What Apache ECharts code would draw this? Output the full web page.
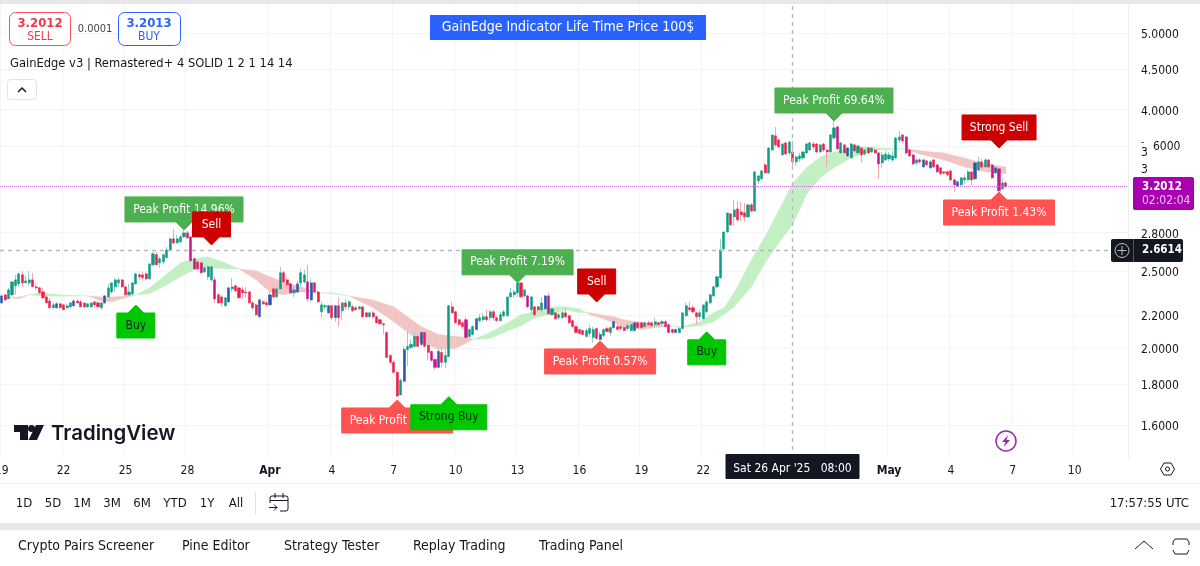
<!DOCTYPE html>
<html>
<head>
<meta charset="utf-8">
<style>html,body{margin:0;padding:0;background:#fff}#c{width:1200px;height:566px}</style>
<script src="https://cdn.jsdelivr.net/npm/echarts@6/dist/echarts.min.js"></script>
</head>
<body>
<div id="c"></div>
<script>
const opens=[2.281,2.335,2.308,2.335,2.397,2.411,2.475,2.418,2.418,2.439,
2.390,2.383,2.355,2.321,2.294,2.249,2.249,2.275,2.268,2.249,
2.255,2.262,2.294,2.288,2.281,2.255,2.255,2.288,2.281,2.249,
2.281,2.321,2.355,2.390,2.418,2.439,2.390,2.335,2.342,2.411,
2.475,2.475,2.482,2.446,2.548,2.624,2.563,2.570,2.601,2.661,
2.748,2.716,2.724,2.764,2.796,2.764,2.593,2.570,2.563,2.497,
2.461,2.439,2.439,2.335,2.321,2.262,2.288,2.376,2.397,2.383,
2.369,2.355,2.355,2.281,2.268,2.191,2.288,2.281,2.268,2.376,
2.321,2.376,2.490,2.439,2.411,2.349,2.355,2.418,2.425,2.425,
2.301,2.418,2.355,2.223,2.255,2.216,2.262,2.185,2.262,2.229,
2.281,2.255,2.255,2.249,2.242,2.255,2.216,2.191,2.216,2.191,
2.172,2.147,2.093,1.958,1.919,1.864,1.745,1.816,1.992,2.004,
2.010,2.069,2.022,2.093,2.016,1.981,1.935,1.891,1.975,1.919,
1.952,2.255,2.223,2.172,2.153,2.172,2.069,2.081,2.111,2.166,
2.172,2.191,2.185,2.223,2.185,2.166,2.197,2.197,2.321,2.335,
2.349,2.418,2.328,2.328,2.236,2.255,2.255,2.236,2.242,2.328,
2.204,2.216,2.185,2.185,2.216,2.197,2.166,2.129,2.111,2.105,
2.069,2.087,2.063,2.117,2.051,2.075,2.117,2.093,2.123,2.129,
2.129,2.123,2.117,2.105,2.105,2.153,2.153,2.129,2.153,2.153,
2.141,2.153,2.147,2.160,2.141,2.111,2.093,2.093,2.117,2.197,
2.249,2.249,2.216,2.191,2.178,2.223,2.281,2.328,2.390,2.454,
2.669,2.804,2.955,2.929,2.998,2.972,2.963,2.929,3.033,2.980,
3.252,3.272,3.407,3.329,3.558,3.707,3.663,3.507,3.632,3.528,
3.538,3.437,3.467,3.477,3.528,3.558,3.621,3.621,3.538,3.621,
3.558,3.538,3.685,3.805,3.528,3.611,3.497,3.477,3.611,3.528,
3.579,3.517,3.579,3.538,3.558,3.528,3.427,3.457,3.467,3.457,
3.477,3.663,3.717,3.696,3.558,3.507,3.427,3.457,3.387,3.447,
3.378,3.457,3.407,3.378,3.339,3.339,3.348,3.262,3.205,3.215,
3.262,3.262,3.339,3.272,3.358,3.437,3.387,3.457,3.407,3.329,
3.368,3.178,3.233];
const closes=[2.328,2.301,2.369,2.425,2.439,2.482,2.418,2.432,2.439,2.390,
2.383,2.349,2.315,2.281,2.249,2.268,2.275,2.249,2.236,2.262,
2.281,2.294,2.281,2.255,2.255,2.275,2.281,2.268,2.255,2.281,
2.328,2.383,2.418,2.439,2.439,2.390,2.335,2.355,2.418,2.482,
2.461,2.454,2.446,2.555,2.631,2.548,2.593,2.624,2.661,2.748,
2.716,2.748,2.764,2.796,2.756,2.578,2.518,2.518,2.490,2.526,
2.533,2.533,2.308,2.281,2.281,2.315,2.383,2.390,2.362,2.315,
2.349,2.349,2.281,2.249,2.204,2.301,2.275,2.268,2.335,2.321,
2.376,2.490,2.425,2.404,2.349,2.369,2.411,2.490,2.475,2.308,
2.418,2.355,2.288,2.268,2.262,2.262,2.185,2.262,2.185,2.281,
2.255,2.288,2.229,2.236,2.255,2.191,2.191,2.216,2.191,2.153,
2.147,2.141,1.947,1.919,1.864,1.740,1.821,1.992,2.010,2.022,
2.069,2.010,2.093,2.010,1.975,1.930,1.891,1.981,1.919,1.958,
2.262,2.216,2.153,2.141,2.129,2.063,2.111,2.129,2.178,2.185,
2.191,2.172,2.223,2.185,2.166,2.204,2.223,2.321,2.349,2.355,
2.418,2.321,2.369,2.255,2.321,2.204,2.236,2.281,2.328,2.210,
2.242,2.178,2.204,2.216,2.191,2.153,2.129,2.093,2.087,2.081,
2.105,2.117,2.111,2.057,2.081,2.111,2.099,2.123,2.160,2.111,
2.117,2.105,2.135,2.141,2.153,2.123,2.123,2.153,2.141,2.135,
2.160,2.141,2.160,2.129,2.093,2.093,2.111,2.117,2.216,2.262,
2.236,2.223,2.191,2.216,2.268,2.288,2.335,2.390,2.461,2.661,
2.804,2.963,2.862,2.989,2.904,2.946,2.929,3.033,2.980,3.339,
3.300,3.348,3.329,3.579,3.717,3.611,3.590,3.621,3.517,3.642,
3.437,3.487,3.497,3.538,3.621,3.632,3.590,3.538,3.611,3.558,
3.538,3.717,3.794,3.569,3.632,3.528,3.579,3.621,3.548,3.600,
3.507,3.558,3.528,3.579,3.528,3.417,3.507,3.517,3.507,3.497,
3.685,3.696,3.653,3.528,3.497,3.417,3.457,3.437,3.457,3.407,
3.437,3.387,3.339,3.320,3.329,3.310,3.262,3.215,3.243,3.281,
3.281,3.339,3.262,3.427,3.437,3.387,3.457,3.387,3.281,3.378,
3.159,3.233,3.2012];
const highs=[2.335,2.342,2.383,2.432,2.475,2.490,2.504,2.475,2.504,2.490,
2.418,2.390,2.383,2.335,2.315,2.281,2.288,2.281,2.275,2.275,
2.288,2.308,2.308,2.301,2.281,2.281,2.281,2.294,2.294,2.288,
2.335,2.411,2.418,2.454,2.454,2.446,2.397,2.411,2.418,2.490,
2.490,2.497,2.497,2.555,2.646,2.646,2.608,2.631,2.685,2.756,
2.828,2.780,2.780,2.837,2.812,2.764,2.608,2.578,2.570,2.533,
2.540,2.540,2.461,2.349,2.335,2.321,2.390,2.454,2.404,2.390,
2.390,2.390,2.362,2.294,2.275,2.308,2.301,2.294,2.355,2.390,
2.390,2.533,2.504,2.454,2.418,2.390,2.432,2.518,2.511,2.548,
2.446,2.425,2.362,2.288,2.275,2.268,2.268,2.268,2.321,2.288,
2.308,2.301,2.268,2.262,2.262,2.262,2.223,2.223,2.229,2.197,
2.178,2.153,2.093,1.964,1.930,1.869,1.832,2.010,2.099,2.051,
2.105,2.081,2.099,2.099,2.022,1.986,1.941,1.992,2.004,1.992,
2.268,2.288,2.229,2.178,2.160,2.191,2.117,2.135,2.185,2.210,
2.216,2.236,2.236,2.236,2.191,2.223,2.236,2.321,2.383,2.369,
2.418,2.418,2.376,2.335,2.328,2.262,2.262,2.321,2.335,2.349,
2.242,2.223,2.216,2.229,2.249,2.204,2.172,2.135,2.117,2.111,
2.117,2.141,2.129,2.123,2.099,2.117,2.129,2.129,2.172,2.147,
2.135,2.129,2.141,2.147,2.160,2.160,2.160,2.160,2.166,2.160,
2.185,2.160,2.172,2.172,2.147,2.117,2.117,2.129,2.216,2.281,
2.288,2.268,2.223,2.236,2.268,2.301,2.342,2.397,2.468,2.748,
2.804,2.963,2.963,3.077,3.068,3.059,3.050,3.042,3.050,3.339,
3.310,3.358,3.427,3.590,3.717,3.805,3.685,3.632,3.642,3.653,
3.653,3.497,3.528,3.548,3.632,3.642,3.642,3.632,3.621,3.632,
3.569,3.728,3.882,3.816,3.642,3.621,3.590,3.632,3.621,3.611,
3.590,3.569,3.590,3.590,3.569,3.538,3.538,3.548,3.538,3.548,
3.696,3.761,3.728,3.707,3.569,3.517,3.467,3.477,3.467,3.457,
3.457,3.467,3.417,3.387,3.348,3.358,3.358,3.272,3.252,3.291,
3.310,3.358,3.339,3.437,3.487,3.467,3.477,3.467,3.417,3.397,
3.378,3.281,3.252];
const lows=[2.275,2.294,2.308,2.328,2.335,2.390,2.390,2.418,2.397,2.390,
2.369,2.335,2.308,2.281,2.242,2.242,2.242,2.242,2.236,2.242,
2.249,2.255,2.275,2.255,2.249,2.249,2.249,2.249,2.255,2.236,
2.275,2.321,2.342,2.355,2.390,2.383,2.328,2.328,2.328,2.404,
2.439,2.432,2.439,2.439,2.540,2.548,2.526,2.555,2.601,2.654,
2.708,2.708,2.716,2.756,2.748,2.570,2.511,2.504,2.482,2.490,
2.439,2.425,2.281,2.275,2.255,2.255,2.281,2.355,2.355,2.308,
2.308,2.315,2.275,2.236,2.197,2.185,2.268,2.255,2.262,2.308,
2.315,2.376,2.418,2.383,2.342,2.321,2.349,2.390,2.411,2.288,
2.288,2.349,2.281,2.185,2.236,2.210,2.172,2.160,2.129,2.172,
2.236,2.236,2.223,2.229,2.236,2.185,2.185,2.185,2.178,2.147,
2.141,2.081,1.941,1.908,1.859,1.735,1.745,1.811,1.897,1.992,
2.004,2.010,2.010,2.004,1.930,1.924,1.875,1.886,1.891,1.886,
1.947,2.210,2.147,2.135,2.111,2.051,2.063,2.075,2.105,2.153,
2.160,2.160,2.166,2.166,2.160,2.160,2.185,2.191,2.315,2.315,
2.321,2.315,2.315,2.249,2.204,2.197,2.223,2.216,2.236,2.204,
2.197,2.172,2.172,2.178,2.185,2.147,2.123,2.087,2.081,2.075,
2.063,2.063,2.033,2.051,2.045,2.063,2.093,2.069,2.117,2.105,
2.105,2.099,2.105,2.099,2.099,2.117,2.117,2.123,2.135,2.129,
2.123,2.135,2.135,2.123,2.087,2.087,2.087,2.087,2.111,2.191,
2.223,2.216,2.141,2.172,2.172,2.216,2.275,2.321,2.383,2.446,
2.661,2.796,2.853,2.853,2.887,2.895,2.887,2.921,2.963,2.972,
3.224,3.262,3.320,3.320,3.548,3.590,3.579,3.507,3.507,3.507,
3.368,3.397,3.437,3.457,3.517,3.548,3.558,3.528,3.528,3.538,
3.387,3.528,3.663,3.558,3.517,3.517,3.487,3.477,3.538,3.507,
3.427,3.497,3.517,3.528,3.517,3.272,3.378,3.447,3.447,3.437,
3.467,3.632,3.632,3.507,3.487,3.407,3.407,3.417,3.378,3.397,
3.368,3.378,3.329,3.310,3.310,3.300,3.252,3.150,3.196,3.205,
3.224,3.252,3.215,3.262,3.339,3.378,3.378,3.378,3.272,3.320,
3.150,3.168,3.187];
const blueBars=[0,16,21,30,66,75,78,86,90,95,97,117,122,127,138,158,174,178,184,196,246,268,270,278,283,289];
const magentaBars=[55,56,58,62,84,89,125,126,135,153,159,194,243,255,263,265,272,277,288,290];

const cloudIdx=[2,5,8,11,17,25,29,32,36,39,43,47,52,56,60,65,69,74,78,82,87,92,96,101,108,114,122,127,132,136,137,142,146,151,155,159,164,168,170,171,174,178,181,186,190,195,198,203,207,210,213,218,222,226,230,234,238,242,247,251,255,262,263,268,274,280,286,292];
const cloudFast=[2.315,2.308,2.335,2.349,2.335,2.328,2.294,2.288,2.315,2.335,2.383,2.461,2.563,2.593,2.608,2.563,2.518,2.439,2.355,2.335,2.355,2.349,2.349,2.328,2.249,2.160,2.033,1.992,1.998,2.039,2.051,2.093,2.141,2.204,2.223,2.255,2.255,2.242,2.216,2.204,2.185,2.153,2.123,2.111,2.123,2.129,2.129,2.160,2.216,2.249,2.349,2.585,2.764,2.989,3.233,3.378,3.487,3.538,3.579,3.590,3.579,3.569,3.558,3.507,3.457,3.387,3.339,3.320];
const cloudSlow=[2.315,2.321,2.335,2.328,2.325,2.328,2.321,2.321,2.328,2.335,2.342,2.390,2.461,2.511,2.526,2.518,2.518,2.504,2.461,2.425,2.390,2.349,2.342,2.328,2.301,2.255,2.129,2.081,2.069,2.063,2.051,2.057,2.093,2.135,2.185,2.204,2.236,2.216,2.216,2.216,2.204,2.191,2.172,2.153,2.141,2.129,2.123,2.135,2.160,2.204,2.255,2.390,2.563,2.716,2.862,3.123,3.281,3.378,3.477,3.528,3.558,3.569,3.569,3.548,3.528,3.477,3.417,3.387];

const signalText=['Peak Profit 14.96%','Sell','Buy','Peak Profit 7.19%','Peak Profit 1.36%','Strong Buy','Sell','Peak Profit 0.57%','Buy','Peak Profit 69.64%','Strong Sell','Peak Profit 1.43%'];
const signalIdx=[53,61,39,150,115,130,173,174,205,242,290,290];
const signalPrice=[2.820,2.700,2.267,2.418,1.720,1.736,2.287,2.042,2.097,3.871,3.579,3.149];
const signalKind=['gainUp','sellUp','buyDown','gainUp','lossDown','buyDown','sellUp','lossDown','buyDown','gainUp','sellUp','lossDown'];

const yTicks=[1.6,1.8,2.0,2.2,2.5,2.8,3.6,4.0,4.5,5.0];
const xTickIdx=[0,18,36,54,78,96,114,132,150,168,186,204,222,240,258,276,294,312];
const xTickText=['19','22','25','28','Apr','4','7','10','13','16','19','22','25','28','May','4','7','10'];
const lastPrice=3.2012, crossPrice=2.6614, crossIdx=230;

const FONT='"DejaVu Sans Condensed","DejaVu Sans"';
const categories=[];
for(let i=0;i<328;i++){categories.push(new Date(Date.UTC(2025,2,19,4*i)).toISOString().slice(0,16));}
const tickMap={};xTickIdx.forEach((v,i)=>tickMap[v]=xTickText[i]);
const isTick=i=>tickMap[i]!==undefined;
const C={up:'#0f9a83',down:'#ec1f4b',blue:'#2f55ad',mag:'#c4198d',wUp:'#8fd5c9',wDown:'#f6a4ae'};
const blueSet=new Set(blueBars),magSet=new Set(magentaBars);
function bodyColor(i){if(blueSet.has(i))return C.blue;if(magSet.has(i))return C.mag;return closes[i]>=opens[i]?C.up:C.down;}
const wickData=opens.map((o,i)=>[o,closes[i],lows[i],highs[i]]);
const bodyData=opens.map((o,i)=>{const c=bodyColor(i);return{value:[o,closes[i],Math.min(o,closes[i]),Math.max(o,closes[i])],itemStyle:{color:c,color0:c,borderColor:c,borderColor0:c,borderWidth:0.5}};});
const cloudSegs=[];for(let i=0;i+1<cloudIdx.length;i++){cloudSegs.push([cloudIdx[i],cloudFast[i],cloudSlow[i],cloudIdx[i+1],cloudFast[i+1],cloudSlow[i+1]]);}
const kinds={gainUp:{fill:'#4caf50',text:'#fff',up:true},sellUp:{fill:'#cc0000',text:'#fff',up:true},buyDown:{fill:'#00c800',text:'#102010',up:false},lossDown:{fill:'#ff5252',text:'#fff',up:false}};
const mctx=document.createElement('canvas').getContext('2d');mctx.font='12px '+FONT;

function txt(t,x,y,size,fill,align,weight,family){return{type:'text',silent:true,style:{text:t,x:x,y:y+1,fill:fill||'#131722',font:(weight||'normal')+' '+size+'px '+(family||FONT),textAlign:align||'left',textVerticalAlign:'middle'}};}
function rect(x,y,w,h,fill,stroke,r,lw){return{type:'rect',silent:true,shape:{x:x,y:y,width:w,height:h,r:r||0},style:{fill:fill||'none',stroke:stroke||'none',lineWidth:lw||1}};}
function line(pts,stroke,lw){return{type:'polyline',silent:true,shape:{points:pts},style:{stroke:stroke,lineWidth:lw||1,fill:'none'}};}
function poly(pts,fill){return{type:'polygon',silent:true,shape:{points:pts},style:{fill:fill}};}

const graphics=[
 rect(0,0,1200,4,'#e8e8ea'),
 rect(9.5,12.5,61,33,'#fff','#f7525f',6),txt('3.2012',40,23,13,'#f23645','center','bold'),txt('SELL',40,36,12,'#f23645','center'),
 txt('0.0001',95,28,11,'#444','center'),
 rect(118.5,12.5,62,33,'#fff','#2962ff',6),txt('3.2013',149,23,13,'#2962ff','center','bold'),txt('BUY',149,36,12,'#2962ff','center'),
 rect(430,15,276,25,'#2962ff'),txt('GainEdge Indicator Life Time Price 100$',568,26.5,14,'#fff','center'),
 txt('GainEdge v3 | Remastered+ 4 SOLID 1 2 1 14 14',10,62.5,12.8,'#131722'),
 rect(7.5,79.5,29,20,'#fff','#e0e3eb',3),line([[18,92],[22,88],[26,92]],'#131722',1.5),
 poly([[14,425],[28,425],[28,440],[20,440],[20,432],[14,432]],'#131722'),
 {type:'circle',silent:true,shape:{cx:31.5,cy:428.5,r:3.5},style:{fill:'#131722'}},
 poly([[36,425],[44,425],[37,440],[28.5,440]],'#131722'),
 txt('TradingView',51,432.5,20.4,'#131722','left','600','Inter'),
 {type:'circle',silent:true,shape:{cx:1006,cy:441,r:10},style:{fill:'#fff',stroke:'#9c27b0',lineWidth:1.5}},
 poly([[1008,435],[1002,442],[1005.5,442],[1003.5,447],[1010,440],[1006.5,440]],'#9c27b0'),
 txt('6000',1153,145.5,12),txt('3',1141,152,12),txt('-',1141,141,10),txt('3',1141,169,12),
 rect(1133,177,61,33,'#a800b0',null,2),txt('3.2012',1142,186,11.5,'#fff','left','bold'),txt('02:02:04',1142,200,12,'#ecc6ee'),
 rect(1111,239,72,23,'#131722',null,2),line([[1133.5,239],[1133.5,262]],'#555',1),
 {type:'circle',silent:true,shape:{cx:1122,cy:250.5,r:7},style:{fill:'none',stroke:'#bbb',lineWidth:1}},
 line([[1122,246],[1122,255]],'#bbb',1),line([[1117.5,250.5],[1126.5,250.5]],'#bbb',1),
 txt('2.6614',1142,249.5,11.5,'#fff','left','bold'),
 rect(725.5,454,134,25,'#131722',null,1),txt("Sat 26 Apr '25   08:00",792.5,468,12,'#fff','center'),
 {type:'polygon',silent:true,shape:{points:[[1160.5,469],[1164,463],[1171,463],[1174.5,469],[1171,475],[1164,475]]},style:{fill:'none',stroke:'#131722',lineWidth:1}},
 {type:'circle',silent:true,shape:{cx:1167.5,cy:469,r:2},style:{fill:'none',stroke:'#131722',lineWidth:1}},
 line([[0,483.5],[1200,483.5]],'#eeeff2',1),
 txt('1D',24,502.5,13,'#131722','center'),txt('5D',53,502.5,13,'#131722','center'),txt('1M',82,502.5,13,'#131722','center'),txt('3M',112,502.5,13,'#131722','center'),txt('6M',142,502.5,13,'#131722','center'),txt('YTD',175,502.5,13,'#131722','center'),txt('1Y',207,502.5,13,'#131722','center'),txt('All',236,502.5,13,'#131722','center'),
 line([[255.5,492],[255.5,515]],'#e0e3eb',1),
 rect(270,496,18,15,'none','#131722',2),line([[270,500.5],[288,500.5]],'#131722',1),line([[275,493],[275,498]],'#131722',1),line([[283,493],[283,498]],'#131722',1),
 rect(268,503,12,10,'#fff'),line([[269,507.5],[277,507.5]],'#131722',1),line([[274,504.5],[277,507.5],[274,510.5]],'#131722',1),
 txt('17:57:55 UTC',1189,502.5,13,'#131722','right'),
 rect(0,523,1200,7,'#e8e8ea'),
 txt('Crypto Pairs Screener',18,545.5,14),txt('Pine Editor',182,545.5,14),txt('Strategy Tester',284,545.5,14),txt('Replay Trading',413,545.5,14),txt('Trading Panel',539,545.5,14),
 line([[1135,549],[1144,541],[1153,549]],'#131722',1),
 line([[1173,545],[1173,542],[1175,539],[1187,539],[1189,542],[1189,545]],'#131722',1),
 line([[1173,550],[1175,554],[1187,554],[1189,550]],'#131722',1)
];

const chart=echarts.init(document.getElementById('c'),null,{renderer:'canvas'});
chart.setOption({
 animation:false,backgroundColor:'#fff',
 graphic:{elements:graphics.map(g=>Object.assign({z:100},g))},
 grid:{left:0,top:0,width:1128,height:458,containLabel:false,outerBoundsMode:'none'},
 xAxis:{type:'category',data:categories,boundaryGap:true,
  axisLine:{show:false},axisTick:{show:false},
  axisLabel:{interval:(i)=>isTick(i),formatter:(v,i)=>{const t=tickMap[i];return (t==='Apr'||t==='May')?'{b|'+t+'}':t;},color:'#131722',fontSize:12,fontFamily:FONT,margin:7,hideOverlap:false,rich:{b:{fontWeight:600,fontSize:12,fontFamily:FONT,color:'#131722'}}},
  splitLine:{show:true,interval:(i)=>isTick(i),lineStyle:{color:'#f3f4f6',width:1}}},
 yAxis:{type:'log',position:'right',min:1.453,max:5.503,logBase:10,
  axisLine:{show:true,lineStyle:{color:'#eceef2'}},
  axisTick:{show:false,customValues:yTicks},
  axisLabel:{customValues:yTicks,formatter:(v)=>Math.abs(v-3.6)<0.01?'':'{v|'+Number(v).toFixed(4)+'}',color:'#131722',fontSize:12,fontFamily:FONT,margin:13,showMinLabel:true,showMaxLabel:true,
   rich:{v:{padding:[4,0,0,0],fontSize:12,fontFamily:FONT,color:'#131722'}}},
  splitLine:{show:true,lineStyle:{color:'#f3f4f6',width:1}}},
 series:[
  {type:'custom',name:'cloud',z:2,silent:true,clip:true,data:cloudSegs,encode:{x:[0,3],y:[1,2,4,5]},
   renderItem:(p,api)=>{const x0=api.value(0),f0=api.value(1),s0=api.value(2),x1=api.value(3),f1=api.value(4),s1=api.value(5);
    const col=(f0+f1)>(s0+s1)?'#c3f0c3':'#f2c5c5';
    return{type:'polygon',shape:{points:[api.coord([x0,f0]),api.coord([x1,f1]),api.coord([x1,s1]),api.coord([x0,s0])]},style:{fill:col,stroke:col,lineWidth:0.4}};}},
  {type:'candlestick',name:'wicks',z:3,silent:true,barWidth:1,data:wickData,
   itemStyle:{color:C.wUp,color0:C.wDown,borderColor:C.wUp,borderColor0:C.wDown,borderWidth:1},
   markLine:{silent:true,symbol:'none',label:{show:false},data:[
    {yAxis:lastPrice,lineStyle:{color:'#d070d8',type:'dotted',width:1}},
    {yAxis:crossPrice,lineStyle:{color:'#b8babf',type:[4,4],width:1.4}},
    {xAxis:categories[crossIdx],lineStyle:{color:'#b8babf',type:[4,4],width:1.4}}]}},
  {type:'candlestick',name:'bodies',z:4,silent:true,barWidth:2.6,data:bodyData},
  {type:'custom',name:'signals',z:5,silent:true,clip:false,data:signalIdx.map((x,i)=>[x,signalPrice[i],i]),encode:{x:0,y:1},
   renderItem:(p,api)=>{const i=api.value(2),k=kinds[signalKind[i]],t=api.coord([api.value(0),api.value(1)]);
    const text=signalText[i],w=Math.max(38,Math.round(mctx.measureText(text).width)+16),h=25,gap=8,half=8,x=t[0]-w/2,dir=k.up?-1:1;
    const near=t[1]+dir*gap,far=near+dir*h;
    const pts=k.up?[[x,far],[x+w,far],[x+w,near],[t[0]+half,near],t,[t[0]-half,near],[x,near]]:[[x,near],[t[0]-half,near],t,[t[0]+half,near],[x+w,near],[x+w,far],[x,far]];
    return{type:'group',children:[
     {type:'polygon',shape:{points:pts},style:{fill:k.fill,stroke:k.fill,lineWidth:1,lineJoin:'round'}},
     {type:'text',style:{text:text,x:t[0],y:(near+far)/2,fill:k.text,font:'12px '+FONT,textAlign:'center',textVerticalAlign:'middle'}}]};}}
 ]
});
</script>
</body>
</html>
